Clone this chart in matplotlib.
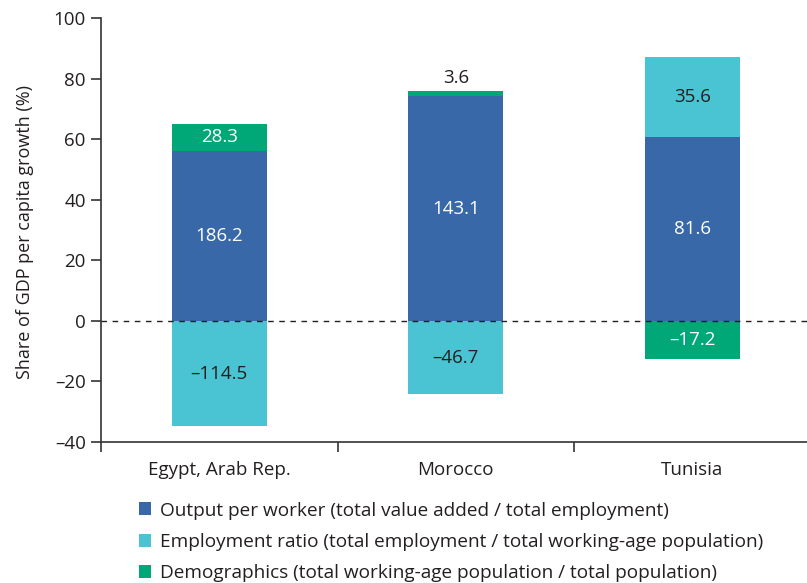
import numpy as np
import matplotlib
matplotlib.use("Agg")
import matplotlib.pyplot as plt
from matplotlib.patches import Patch

plt.rcParams['font.family'] = ['Open Sans', 'DejaVu Sans']

countries = ["Egypt, Arab Rep.", "Morocco", "Tunisia"]
series_names = [
    "Output per worker (total value added / total employment)",
    "Employment ratio (total employment / total working-age population)",
    "Demographics (total working-age population / total population)",
]
# bar heights as drawn on the axis (share, %)
output_per_worker = [56.2, 74.1, 60.6]
employment_ratio = [-34.8, -24.2, 26.6]
demographics = [8.9, 1.9, -12.7]
# printed labels
output_labels = [186.2, 143.1, 81.6]
employment_labels = [-114.5, -46.7, 35.6]
demographics_labels = [28.3, 3.6, -17.2]

colors = ["#3868A8", "#4AC4D2", "#00A878"]
label_colors = ["white", "#231F20", "white"]
yticks = [-40, -20, 0, 20, 40, 60, 80, 100]

W, H = 807, 583
fig = plt.figure(figsize=(W / 100, H / 100), dpi=100)
ax = fig.add_axes([101 / W, 1 - 442 / H, (W - 101) / W, (442 - 18) / H])

x = np.arange(len(countries))
width = 0.40
series = [output_per_worker, employment_ratio, demographics]
labels = [output_labels, employment_labels, demographics_labels]

pos_base = np.zeros(len(countries))
neg_base = np.zeros(len(countries))
for vals, labs, col, lcol in zip(series, labels, colors, label_colors):
    vals = np.array(vals, dtype=float)
    bottoms = np.where(vals >= 0, pos_base, neg_base)
    ax.bar(x, vals, width, bottom=bottoms, color=col, zorder=2)
    for xi, v, b, lab in zip(x, vals, bottoms, labs):
        txt = f"{lab:.1f}".replace("-", "\u2013")
        if abs(v) < 5:
            ax.text(xi, b + v + 1.3, txt, ha="center", va="bottom",
                    color="#231F20", fontsize=13.5, zorder=4)
        else:
            ax.text(xi, b + v / 2, txt, ha="center", va="center",
                    color=lcol, fontsize=13.5, zorder=4)
    pos_base = pos_base + np.where(vals >= 0, vals, 0)
    neg_base = neg_base + np.where(vals < 0, vals, 0)

ax.axhline(0, color="#231F20", lw=1.0, ls=(0, (4, 4)), zorder=3)

ax.set_ylim(-40, 100)
ax.set_xlim(-0.5, -0.5 + (W - 101) / 236.5)
ax.set_yticks(yticks)
ax.set_yticklabels([str(t).replace("-", "\u2013") for t in yticks], fontsize=13.5, color="#231F20")
ax.set_xticks([-0.5, 0.5, 1.5])
ax.set_xticklabels([])
ax.set_xticks(x, minor=True)
ax.set_xticklabels(countries, minor=True, fontsize=13.5, color="#231F20")
ax.tick_params(axis="x", which="major", length=7, width=1.2, color="#333333", direction="out")
ax.tick_params(axis="x", which="minor", length=0, pad=14)
ax.tick_params(axis="y", length=7, width=1.2, color="#333333", pad=4)
for s in ["top", "right"]:
    ax.spines[s].set_visible(False)
for s in ["left", "bottom"]:
    ax.spines[s].set_color("#333333")
    ax.spines[s].set_linewidth(1.2)

ax.set_ylabel("Share of GDP per capita growth (%)", fontsize=13, color="#231F20")
ax.yaxis.set_label_coords(-(101 - 34) / (W - 101), (442 - 232) / 424)

handles = [Patch(facecolor=c, edgecolor="none") for c in colors]
fig.legend(handles, series_names, loc="upper left",
           bbox_to_anchor=(131 / W, 1 - 494 / H), frameon=False,
           fontsize=13.7, handlelength=0.67, handleheight=0.67,
           handletextpad=0.45, labelspacing=0.7, borderaxespad=0,
           labelcolor="#231F20")

fig.savefig("out.png", dpi=100)
